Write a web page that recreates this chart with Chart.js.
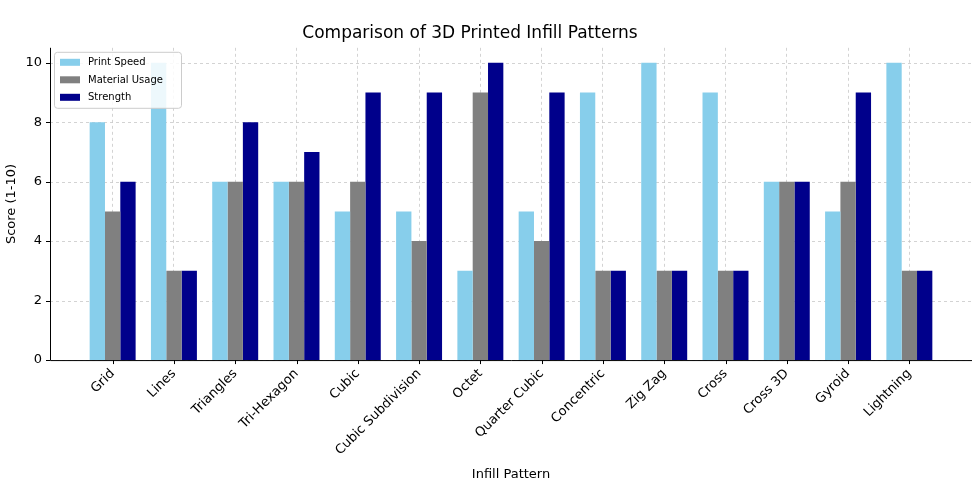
<!DOCTYPE html>
<html><head><meta charset="utf-8">
<script src="https://cdn.jsdelivr.net/npm/chart.js@4"></script>
<style>html,body{margin:0;padding:0;background:#fff}#w{width:980px;height:486px}</style>
</head><body><div id="w"><canvas id="c"></canvas></div>
<script>
const categories = ["Grid","Lines","Triangles","Tri-Hexagon","Cubic","Cubic Subdivision","Octet","Quarter Cubic","Concentric","Zig Zag","Cross","Cross 3D","Gyroid","Lightning"];
const printSpeed = [8,10,6,6,5,5,3,5,9,10,9,6,5,10];
const materialUsage = [5,3,6,6,6,4,9,4,3,3,3,6,6,3];
const strength = [6,3,8,7,9,9,10,9,3,3,3,6,9,3];
const yTicks = [0,2,4,6,8,10];
const F = "'DejaVu Sans', sans-serif";
const PADX = 32;

const frame = {
  id:'frame',
  beforeDatasetsDraw(ch){
    const {ctx, chartArea:a, scales:{y}} = ch;
    const L = a.left - PADX, R = a.right + PADX;
    ctx.save();
    ctx.strokeStyle = '#c8c8c8'; ctx.lineWidth = 0.8; ctx.setLineDash([3,3]);
    yTicks.forEach(v=>{ const py = Math.round(y.getPixelForValue(v))+0.5;
      ctx.beginPath(); ctx.moveTo(L,py); ctx.lineTo(R,py); ctx.stroke(); });
    ctx.restore();
  },
  afterDraw(ch){
    const {ctx, chartArea:a, scales:{y}} = ch;
    const L = a.left - PADX, R = a.right + PADX;
    ctx.save();
    ctx.strokeStyle = '#000'; ctx.lineWidth = 1;
    ctx.beginPath(); ctx.moveTo(L+0.5,a.top); ctx.lineTo(L+0.5,a.bottom+0.5); ctx.lineTo(R,a.bottom+0.5); ctx.stroke();
    yTicks.forEach(v=>{ const py = Math.round(y.getPixelForValue(v))+0.5;
      ctx.beginPath(); ctx.moveTo(L-4,py); ctx.lineTo(L,py); ctx.stroke(); });
    ch.scales.x.ticks.forEach((t,i)=>{ const px=Math.round(ch.scales.x.getPixelForValue(i))+0.5;
      ctx.beginPath(); ctx.moveTo(px,a.bottom); ctx.lineTo(px,a.bottom+4); ctx.stroke(); });
    const lx = L+4, ly = a.top+4;
    ctx.fillStyle='rgba(255,255,255,0.85)'; ctx.strokeStyle='#ccc';
    ctx.beginPath(); ctx.roundRect(lx+0.5,ly+0.5,127,56,3); ctx.fill(); ctx.stroke();
    ctx.font = '10px '+F; ctx.textBaseline='middle'; ctx.textAlign='left';
    ch.data.datasets.forEach((d,i)=>{ const yy = ly+11+i*17.5;
      ctx.fillStyle=d.backgroundColor; ctx.fillRect(lx+6,yy-4,20,7);
      ctx.fillStyle='#000'; ctx.fillText(d.label,lx+34,yy); });
    ctx.restore();
  }
};

new Chart(document.getElementById('c'),{
  type:'bar',
  data:{labels:categories,datasets:[
    {label:'Print Speed',data:printSpeed,backgroundColor:'#87CEEB'},
    {label:'Material Usage',data:materialUsage,backgroundColor:'#808080'},
    {label:'Strength',data:strength,backgroundColor:'#00008B'}]},
  options:{responsive:true,maintainAspectRatio:false,animation:false,
    datasets:{bar:{categoryPercentage:0.75,barPercentage:1}},
    layout:{padding:{left:0,right:8+PADX,top:-14,bottom:0}},
    plugins:{legend:{display:false},tooltip:{enabled:false},
      title:{display:true,text:'Comparison of 3D Printed Infill Patterns',color:'#000',font:{family:F,size:17,weight:'normal'},padding:{top:0,bottom:4}}},
    scales:{
      x:{grid:{offset:false,color:'#c8c8c8',lineWidth:0.8,drawTicks:false},border:{display:false,dash:[3,3]},
        ticks:{color:'#000',font:{family:F,size:13},minRotation:45,maxRotation:45,padding:6},
        title:{display:true,text:'Infill Pattern',color:'#000',font:{family:F,size:13},padding:{top:2}}},
      y:{min:0,max:10.5,afterBuildTicks(s){s.ticks=yTicks.map(v=>({value:v}));},
        afterFit(s){s.width=82;},
        grid:{display:false,drawTicks:false},border:{display:false},
        ticks:{color:'#000',font:{family:F,size:13},padding:PADX+8},
        title:{display:true,text:'Score (1-10)',color:'#000',font:{family:F,size:13},padding:{bottom:0}}}
    }},
  plugins:[frame]
});
</script></body></html>
